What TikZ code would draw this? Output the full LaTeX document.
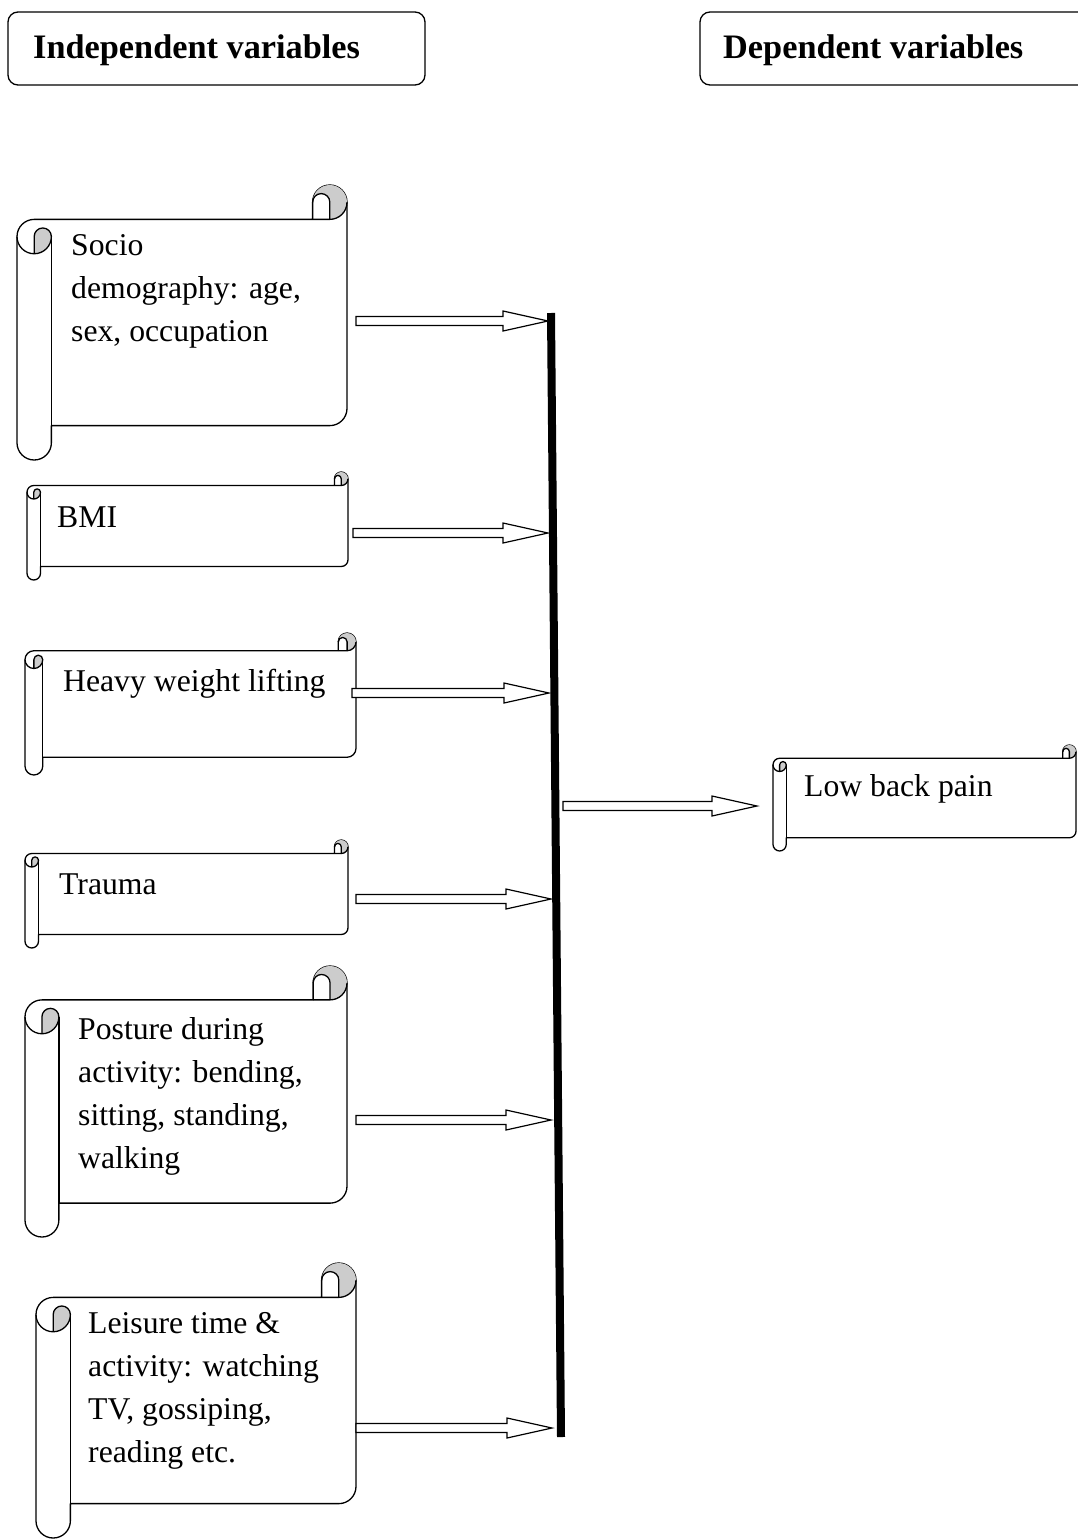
\documentclass[tikz,border=0pt]{standalone}
\usepackage{fontspec}
\setmainfont{Liberation Serif}
\usetikzlibrary{calc}
\tikzset{
  titlebox/.style={draw=black, line width=1.3pt, rounded corners=10pt},
  titletext/.style={font=\fontsize{34.3}{40}\selectfont\bfseries, anchor=base west, inner sep=0pt},
  bodytext/.style={font=\fontsize{31.7}{43}\selectfont, anchor=base west, inner sep=0pt, align=left},
  scrolline/.style={draw=black, line width=1.3pt, line join=round},
  scrollgrey/.style={fill=black!20},
  arrowline/.style={draw=black, fill=white, line width=1.2pt, line join=miter},
  bar/.style={draw=black, line width=8pt}
}
% scroll shape: left, top, right, bottom (y grows downward)
\newcommand\scrollshape[4]{%
  \pgfmathsetmacro\sL{#1}\pgfmathsetmacro\sT{#2}\pgfmathsetmacro\sR{#3}\pgfmathsetmacro\sB{#4}%
  \pgfmathsetmacro\scH{0.125*min(#3-#1,#4-#2)}%
  \pgfmathsetmacro\scHH{\scH/2}\pgfmathsetmacro\scHQ{\scH/4}%
  \pgfmathsetmacro\xiii{\sR-\scH}\pgfmathsetmacro\xiv{\sR-\scHH}%
  \pgfmathsetmacro\xch{\sL+\scHH}\pgfmathsetmacro\xc{\sL+\scH}%
  \pgfmathsetmacro\ych{\sT+\scHH}\pgfmathsetmacro\yc{\sT+\scH}%
  \pgfmathsetmacro\yiii{\sT+1.5*\scH}\pgfmathsetmacro\yiv{\sT+2*\scH}%
  \pgfmathsetmacro\yv{\sB-1.5*\scH}\pgfmathsetmacro\yvi{\sB-\scH}\pgfmathsetmacro\yvii{\sB-\scHH}%
  \path[scrolline, fill=white] (\sL,\yiii) arc[start angle=180,end angle=270,radius=\scHH]
     -- (\xiii,\yc) -- (\xiii,\ych) arc[start angle=180,end angle=360,radius=\scHH]
     -- (\sR,\yv) arc[start angle=0,end angle=90,radius=\scHH]
     -- (\xc,\yvi) -- (\xc,\yvii) arc[start angle=0,end angle=180,radius=\scHH] -- cycle;
  \fill[scrollgrey] (\xiv,\yc) arc[start angle=90,end angle=-180,radius=\scHH]
     arc[start angle=180,end angle=360,radius=\scHQ] -- cycle;
  \fill[scrollgrey] (\xch,\yiv) arc[start angle=90,end angle=0,radius=\scHH]
     arc[start angle=0,end angle=-180,radius=\scHQ] -- cycle;
  \draw[scrolline] (\xiii,\yc) -- (\xiv,\yc) arc[start angle=90,end angle=0,radius=\scHH];
  \draw[scrolline] (\xiv,\yc) -- (\xiv,\ych) arc[start angle=0,end angle=-180,radius=\scHQ];
  \draw[scrolline] (\xch,\yiv) -- (\xch,\yiii) arc[start angle=180,end angle=360,radius=\scHQ]
     arc[start angle=0,end angle=180,radius=\scHH];
  \draw[scrolline] (\xc,\yiii) -- (\xc,\yvi);
}
\newcommand\blockarr[2]{%
  \path[arrowline] let \p1=(#1), \p2=(#2) in
    (\x1,\y1+4.5pt) -- (\x2-45pt,\y1+4.5pt) -- (\x2-45pt,\y1+10pt) -- (\x2,\y1)
    -- (\x2-45pt,\y1-10pt) -- (\x2-45pt,\y1-4.5pt) -- (\x1,\y1-4.5pt) -- cycle;}
\begin{document}
\begin{tikzpicture}[x=1pt,y=-1pt]
\useasboundingbox (0,0) rectangle (1078,1539);
\fill[white] (0,0) rectangle (1078,1539);
% titles
\draw[titlebox] (8,12) rectangle (425,85);
\node[titletext] (indep) at (33,58) {Independent variables};
\draw[titlebox] (700,12) rectangle (1090,85);
\node[titletext] (dep) at (723,58) {Dependent variables};
% scrolls
\scrollshape{17}{185}{347}{460}
\scrollshape{27}{472}{348}{580}
\scrollshape{25}{633}{356}{775}
\scrollshape{25}{840}{348}{948}
\scrollshape{25}{966}{347}{1237}
\scrollshape{36}{1263}{356}{1538}
\scrollshape{773}{745}{1076}{851}
% texts (base anchor = last line's baseline)
\node[bodytext] (socio) at (71,341) {Socio\\demography: age,\\sex, occupation};
\node[bodytext] (bmi) at (57,527) {BMI};
\node[bodytext] (heavy) at (63,691) {Heavy weight lifting};
\node[bodytext] (trauma) at (59,894) {Trauma};
\node[bodytext] (posture) at (78,1168) {Posture during\\activity: bending,\\sitting, standing,\\walking};
\node[bodytext] (leisure) at (88,1462) {Leisure time \&\\activity: watching\\TV, gossiping,\\reading etc.};
\node[bodytext] (lbp) at (804,796) {Low back pain};
% bar
\coordinate (bartop) at (551,313);
\coordinate (barbot) at (561,1437);
\draw[bar] (bartop) -- (barbot);
% arrow ends
\coordinate (s1) at (356,321); \coordinate (e1) at (548,321);
\coordinate (s2) at (353,533); \coordinate (e2) at (548,533);
\coordinate (s3) at (352,693); \coordinate (e3) at (549,693);
\coordinate (s4) at (356,899); \coordinate (e4) at (551,899);
\coordinate (s5) at (356,1120); \coordinate (e5) at (551,1120);
\coordinate (s6) at (356,1428); \coordinate (e6) at (552,1428);
\coordinate (s7) at (563,806); \coordinate (e7) at (757,806);
\blockarr{s1}{e1}
\blockarr{s2}{e2}
\blockarr{s3}{e3}
\blockarr{s4}{e4}
\blockarr{s5}{e5}
\blockarr{s6}{e6}
\blockarr{s7}{e7}
\end{tikzpicture}
\end{document}
